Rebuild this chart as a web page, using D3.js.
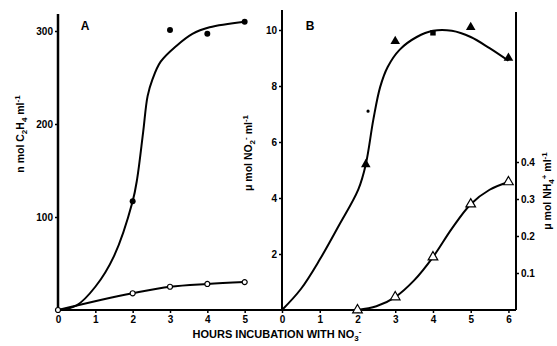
<!DOCTYPE html>
<html>
<head>
<meta charset="utf-8">
<script src="https://cdnjs.cloudflare.com/ajax/libs/d3/7.8.5/d3.min.js"></script>
<style>
  body { margin: 0; background: #fff; }
  svg text { font-family: "Liberation Sans", Arial, sans-serif; font-weight: bold; fill: #000; }
</style>
</head>
<body>
<svg id="chart"></svg>
<script>
// panel A: ethylene (C2H4)
var hoursA = [2, 3, 4, 5];
var c2h4Filled = [117, 301, 297, 310];
var c2h4CurveHours = [0, 0.5, 1, 1.5, 2, 2.12, 2.28, 2.4, 2.53, 2.75, 3.17, 3.6, 4.06, 5];
var c2h4CurveVals  = [0, 5, 25, 58, 117, 141, 191, 230, 248, 267, 284, 297, 304, 310];
var openHours = [0, 2, 3, 4, 5];
var c2h4Open  = [0, 18, 25, 28, 30];

// panel B: nitrite (left) and ammonium (right)
var no2Hours = [2.22, 3, 5, 6];
var no2Tri   = [5.2, 9.6, 10.1, 9.0];
var no2SquareHour = 4, no2Square = 9.9;
var no2DotHour = 2.28, no2Dot = 7.1;
var no2CurveHours = [0, 0.5, 1, 1.5, 2.02, 2.22, 2.42, 2.6, 2.8, 3.12, 3.57, 4, 4.5, 5, 5.5, 6];
var no2CurveVals  = [0, 0.75, 1.8, 3.0, 4.3, 5.2, 6.8, 7.96, 8.68, 9.3, 9.75, 9.97, 9.97, 9.75, 9.35, 8.9];
var nh4Hours = [2, 3, 4, 5, 6];
var nh4Vals  = [0, 0.035, 0.143, 0.286, 0.346];
var nh4CurveHours = [2, 2.5, 3, 3.5, 4, 4.5, 5, 5.5, 6];
var nh4CurveVals  = [0, 0.01, 0.035, 0.08, 0.143, 0.22, 0.286, 0.325, 0.346];

var ticksA = [0, 1, 2, 3, 4, 5];
var ticksB = [0, 1, 2, 3, 4, 5, 6];
var yTicksA = [100, 200, 300];
var yTicksB = [2, 4, 6, 8, 10];
var yTicksR = [0.1, 0.2, 0.3, 0.4];

var width = 557, height = 346;
var svg = d3.select("#chart").attr("width", width).attr("height", height);

var baseY = 310;
var xA = d3.scaleLinear().domain([0, 6]).range([58, 282]);
var yA = d3.scaleLinear().domain([0, 300]).range([baseY, 31]);
var xB = d3.scaleLinear().domain([0, 6.2]).range([282, 516]);
var yB = d3.scaleLinear().domain([0, 10]).range([baseY, 30]);
var yR = d3.scaleLinear().domain([0, 0.4]).range([baseY, 162]);

function styleAxis(g) {
  g.select(".domain").remove();
  g.selectAll(".tick line").attr("stroke", "#000").attr("stroke-width", 1.5);
  g.selectAll(".tick text").style("font-size", "10px");
}

// x axis line across both panels
svg.append("line").attr("x1", 58).attr("x2", 516).attr("y1", baseY).attr("y2", baseY)
  .attr("stroke", "#000").attr("stroke-width", 2);

svg.append("g").attr("transform", "translate(0," + baseY + ")")
  .call(d3.axisBottom(xA).tickValues(ticksA).tickFormat(d3.format("d")).tickSize(3).tickPadding(3))
  .call(styleAxis);
svg.append("g").attr("transform", "translate(0," + baseY + ")")
  .call(d3.axisBottom(xB).tickValues(ticksB).tickFormat(d3.format("d")).tickSize(3).tickPadding(3))
  .call(styleAxis);

// y axes
svg.append("line").attr("x1", 58).attr("x2", 58).attr("y1", 14).attr("y2", baseY)
  .attr("stroke", "#000").attr("stroke-width", 2.5);
svg.append("g").attr("transform", "translate(58,0)")
  .call(d3.axisLeft(yA).tickValues(yTicksA).tickSize(3).tickPadding(2))
  .call(styleAxis);

svg.append("line").attr("x1", 282).attr("x2", 282).attr("y1", 10).attr("y2", baseY)
  .attr("stroke", "#000").attr("stroke-width", 2);
svg.append("g").attr("transform", "translate(282,0)")
  .call(d3.axisLeft(yB).tickValues(yTicksB).tickSize(3).tickPadding(2))
  .call(styleAxis);

svg.append("line").attr("x1", 516).attr("x2", 516).attr("y1", 12).attr("y2", baseY)
  .attr("stroke", "#000").attr("stroke-width", 2);
svg.append("g").attr("transform", "translate(516,0)")
  .call(d3.axisRight(yR).tickValues(yTicksR).tickFormat(d3.format(".1f")).tickSize(3).tickPadding(2))
  .call(styleAxis);

// axis titles
svg.append("text").attr("transform", "translate(24,134) rotate(-90)")
  .attr("text-anchor", "middle").style("font-size", "10.5px")
  .html('n mol C<tspan dy="3" font-size="8">2</tspan><tspan dy="-3">H</tspan><tspan dy="3" font-size="8">4</tspan><tspan dy="-3"> ml</tspan><tspan dy="-4" font-size="8">-1</tspan>');
svg.append("text").attr("transform", "translate(252,153) rotate(-90)")
  .attr("text-anchor", "middle").style("font-size", "10.5px")
  .html('\u03bc mol NO<tspan dy="3" font-size="8">2</tspan><tspan dy="-7" font-size="8">-</tspan><tspan dy="4"> ml</tspan><tspan dy="-4" font-size="8">-1</tspan>');
svg.append("text").attr("transform", "translate(551,191) rotate(-90)")
  .attr("text-anchor", "middle").style("font-size", "10.5px")
  .html('\u03bc mol NH<tspan dy="3" font-size="8">4</tspan><tspan dy="-7" font-size="8">+</tspan><tspan dy="4"> ml</tspan><tspan dy="-4" font-size="8">-1</tspan>');
svg.append("text").attr("x", 277).attr("y", 338).attr("text-anchor", "middle")
  .style("font-size", "11px")
  .html('HOURS INCUBATION WITH NO<tspan dy="3" font-size="8">3</tspan><tspan dy="-7" font-size="8">-</tspan>');

svg.append("text").attr("x", 85).attr("y", 30).attr("text-anchor", "middle").style("font-size", "12px").text("A");
svg.append("text").attr("x", 310).attr("y", 30).attr("text-anchor", "middle").style("font-size", "12px").text("B");

// curves
function drawCurve(xs, ys, xScale, yScale, curve) {
  var pts = xs.map(function(d, i) { return [d, ys[i]]; });
  svg.append("path").datum(pts)
    .attr("d", d3.line().x(function(d) { return xScale(d[0]); }).y(function(d) { return yScale(d[1]); }).curve(curve))
    .attr("fill", "none").attr("stroke", "#000").attr("stroke-width", 2);
}
drawCurve(c2h4CurveHours, c2h4CurveVals, xA, yA, d3.curveCatmullRom);
drawCurve(openHours, c2h4Open, xA, yA, d3.curveMonotoneX);
drawCurve(no2CurveHours, no2CurveVals, xB, yB, d3.curveCatmullRom);
drawCurve(nh4CurveHours, nh4CurveVals, xB, yR, d3.curveCatmullRom);

// markers
var circ = d3.symbol().type(d3.symbolCircle).size(28);
var tri = d3.symbol().type(d3.symbolTriangle).size(40);
var sq = d3.symbol().type(d3.symbolSquare).size(30);

svg.selectAll(".fc").data(hoursA).enter().append("path")
  .attr("d", circ).attr("transform", function(d, i) { return "translate(" + xA(d) + "," + yA(c2h4Filled[i]) + ")"; })
  .attr("fill", "#000");
svg.selectAll(".oc").data(openHours).enter().append("path")
  .attr("d", d3.symbol().type(d3.symbolCircle).size(20))
  .attr("transform", function(d, i) { return "translate(" + xA(d) + "," + yA(c2h4Open[i]) + ")"; })
  .attr("fill", "#fff").attr("stroke", "#000").attr("stroke-width", 1.2);

svg.selectAll(".ft").data(no2Hours).enter().append("path")
  .attr("d", tri).attr("transform", function(d, i) { return "translate(" + xB(d) + "," + yB(no2Tri[i]) + ")"; })
  .attr("fill", "#000");
svg.append("path").attr("d", sq)
  .attr("transform", "translate(" + xB(no2SquareHour) + "," + yB(no2Square) + ")").attr("fill", "#000");
svg.append("path").attr("d", d3.symbol().type(d3.symbolCircle).size(8))
  .attr("transform", "translate(" + xB(no2DotHour) + "," + yB(no2Dot) + ")").attr("fill", "#000");

svg.selectAll(".ot").data(nh4Hours).enter().append("path")
  .attr("d", tri).attr("transform", function(d, i) { return "translate(" + xB(d) + "," + yR(nh4Vals[i]) + ")"; })
  .attr("fill", "#fff").attr("stroke", "#000").attr("stroke-width", 1.2);
</script>
</body>
</html>
